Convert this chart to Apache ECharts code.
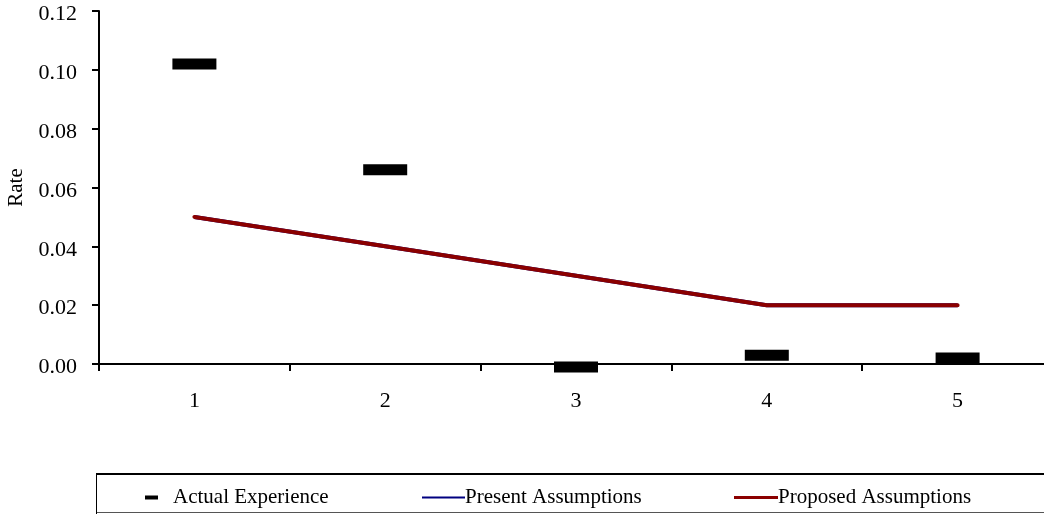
<!DOCTYPE html>
<html>
<head>
<meta charset="utf-8">
<script src="https://cdn.jsdelivr.net/npm/echarts@6/dist/echarts.min.js"></script>
<style>
  html, body { margin: 0; padding: 0; background: #fff; }
  #chart { width: 1044px; height: 514px; }
</style>
</head>
<body>
<div id="chart"></div>
<script>
// Policy years and rates
const years = ['1', '2', '3', '4', '5'];
const actualExperience = [0.102, 0.066, -0.001, 0.003, 0.002];
const presentAssumptions = [0.05, 0.04, 0.03, 0.02, 0.02];
const proposedAssumptions = [0.05, 0.04, 0.03, 0.02, 0.02];
const yTicks = { min: 0, max: 0.12, step: 0.02 };

const FONT = '"Liberation Serif", "Times New Roman", serif';
const FS = 21;
const AXIS_FS = 22;

const chart = echarts.init(document.getElementById('chart'), null, { renderer: 'canvas' });

const legendText = { fontFamily: FONT, fontSize: FS, color: '#000' };

chart.setOption({
  animation: false,
  backgroundColor: '#fff',
  // plot area runs slightly past the right edge of the canvas
  grid: {
    left: 99, top: 11, width: 954, height: 353,
    containLabel: false,
    outerBoundsMode: 'none'
  },
  xAxis: {
    type: 'category',
    data: years,
    boundaryGap: true,
    axisLine: { lineStyle: { color: '#000', width: 2 } },
    axisTick: { show: true, length: 7, lineStyle: { color: '#000', width: 2 } },
    axisLabel: { margin: 26, fontFamily: FONT, fontSize: AXIS_FS, color: '#000' },
    splitLine: { show: false }
  },
  yAxis: {
    type: 'value',
    min: yTicks.min,
    max: yTicks.max,
    interval: yTicks.step,
    name: 'Rate',
    nameLocation: 'middle',
    nameRotate: 90,
    nameGap: 72,
    nameTextStyle: { fontFamily: FONT, fontSize: FS, color: '#000' },
    axisLine: { show: true, lineStyle: { color: '#000', width: 2 } },
    axisTick: { show: true, length: 7, lineStyle: { color: '#000', width: 2 } },
    axisLabel: {
      margin: 22,
      fontFamily: FONT, fontSize: AXIS_FS, color: '#000',
      formatter: v => '{t|' + v.toFixed(2) + '}',
      rich: {
        // nudge the numbers a little below their ticks
        t: { fontFamily: FONT, fontSize: AXIS_FS, color: '#000', padding: [7, 0, 0, 0] }
      }
    },
    splitLine: { show: false }
  },
  legend: [
    {
      data: [{ name: 'Actual Experience', icon: 'rect' }],
      left: 140, top: 482,
      itemWidth: 13, itemHeight: 4,
      textStyle: Object.assign({ padding: [0, 0, 0, 10] }, legendText),
      selectedMode: false
    },
    {
      data: [{ name: 'Present Assumptions', icon: 'rect' }],
      left: 417, top: 482,
      itemWidth: 43, itemHeight: 2,
      textStyle: Object.assign({ padding: [0, 0, 0, -5] }, legendText),
      selectedMode: false
    },
    {
      data: [{ name: 'Proposed Assumptions', icon: 'rect' }],
      left: 729, top: 482,
      itemWidth: 44, itemHeight: 3,
      textStyle: Object.assign({ padding: [0, 0, 0, -5] }, legendText),
      selectedMode: false
    }
  ],
  graphic: [
    {
      type: 'line',
      shape: { x1: 96, y1: 474, x2: 1044, y2: 474 },
      style: { stroke: '#000', lineWidth: 2 },
      silent: true
    },
    {
      type: 'line',
      shape: { x1: 96, y1: 512.5, x2: 1044, y2: 512.5 },
      style: { stroke: '#555', lineWidth: 1 },
      silent: true
    },
    {
      type: 'line',
      shape: { x1: 96.5, y1: 474, x2: 96.5, y2: 514 },
      style: { stroke: '#000', lineWidth: 1 },
      silent: true
    }
  ],
  series: [
    {
      name: 'Present Assumptions',
      type: 'line',
      data: presentAssumptions,
      symbol: 'none',
      clip: false,
      itemStyle: { color: '#000080' },
      lineStyle: { color: '#000080', width: 4 },
      z: 3
    },
    {
      name: 'Proposed Assumptions',
      type: 'line',
      data: proposedAssumptions,
      symbol: 'none',
      clip: false,
      itemStyle: { color: '#8B0000' },
      lineStyle: { color: '#8B0000', width: 4, cap: 'round' },
      z: 4
    },
    {
      name: 'Actual Experience',
      type: 'scatter',
      data: actualExperience,
      symbol: 'rect',
      symbolSize: [44, 11],
      clip: false,
      itemStyle: { color: '#000', opacity: 1 },
      z: 5
    }
  ]
});
</script>
</body>
</html>
